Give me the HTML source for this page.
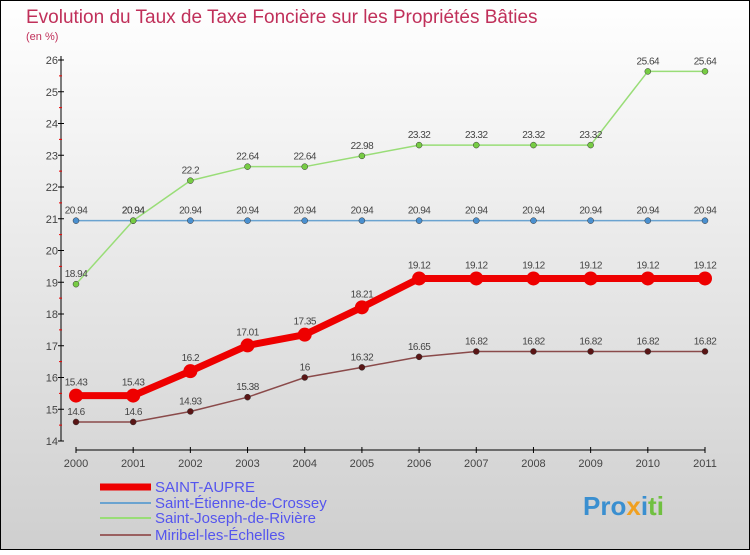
<!DOCTYPE html>
<html><head><meta charset="utf-8"><style>
body{margin:0}
#c{width:750px;height:550px;font-family:"Liberation Sans",sans-serif}
</style></head><body>
<div id="c">
<svg width="750" height="550">
<defs><linearGradient id="bg" x1="0" y1="0" x2="0" y2="1"><stop offset="0" stop-color="#ffffff"/><stop offset="1" stop-color="#cfcfcf"/></linearGradient></defs>
<rect x="0.5" y="0.5" width="749" height="549" fill="url(#bg)" stroke="#000"/>
<text x="26" y="23" font-size="19" fill="#c0305a">Evolution du Taux de Taxe Foncière sur les Propriétés Bâties</text>
<text x="26" y="40" font-size="11" fill="#c0305a">(en %)</text>
<g id="axes"></g><g id="series"></g><g id="legend"></g>
<text x="583" y="515" font-size="26" font-weight="bold" fill="#3a8fd0">Pro<tspan fill="#f0a020">x</tspan><tspan fill="#3a8fd0">i</tspan><tspan fill="#70c040">ti</tspan></text>
</svg></div>
<script>
const years=[2000,2001,2002,2003,2004,2005,2006,2007,2008,2009,2010,2011];
const yTicks=[14,15,16,17,18,19,20,21,22,23,24,25,26];
const saintAupre=[15.43,15.43,16.2,17.01,17.35,18.21,19.12,19.12,19.12,19.12,19.12,19.12];
const saintEtienne=[20.94,20.94,20.94,20.94,20.94,20.94,20.94,20.94,20.94,20.94,20.94,20.94];
const saintJoseph=[18.94,20.94,22.2,22.64,22.64,22.98,23.32,23.32,23.32,23.32,25.64,25.64];
const miribel=[14.6,14.6,14.93,15.38,16,16.32,16.65,16.82,16.82,16.82,16.82,16.82];
const NS="http://www.w3.org/2000/svg";
const x=i=>76+i*(705-76)/(years.length-1);
const y=v=>441-(v-14)*(441-60)/12;
function mk(t,a,p){const e=document.createElementNS(NS,t);for(const k in a)e.setAttribute(k,a[k]);p.appendChild(e);return e;}
const ax=document.getElementById('axes');
let e=mk('line',{x1:61,y1:56,x2:61,y2:441,stroke:'#000'},ax);


e=mk('line',{x1:76,y1:450,x2:705,y2:450,stroke:'#000'},ax);


yTicks.forEach(v=>{
 mk('line',{x1:58,x2:64,y1:y(v),y2:y(v),stroke:'#000'},ax);
 if(v<26)mk('line',{x1:59,x2:62,y1:y(v+0.5),y2:y(v+0.5),stroke:'#e00'},ax);
 const t=mk('text',{x:58,y:y(v)+4,'font-size':11,fill:'#444','text-anchor':'end'},ax);t.textContent=v;
 
 
});
years.forEach((yr,i)=>{
 mk('line',{x1:x(i),x2:x(i),y1:447,y2:453,stroke:'#000'},ax);
 const t=mk('text',{x:x(i),y:467,'font-size':11,fill:'#444','text-anchor':'middle'},ax);t.textContent=yr;
 
 
});
const sg=document.getElementById('series');
function draw(vals,color,w,r,pc,name){
 const g=mk('g',{},sg);
 
 
 mk('polyline',{points:vals.map((v,i)=>x(i)+','+y(v)).join(' '),fill:'none',stroke:color,'stroke-width':w,'stroke-linejoin':'round'},g);
 vals.forEach((v,i)=>{
  const c=mk('circle',{cx:x(i),cy:y(v),r:r,fill:pc,stroke:'#333','stroke-width':r>5?0:0.5},g);
  
  
  const t=mk('text',{x:x(i),y:y(v)-(r>5?10:7),'font-size':10,fill:'#444','text-anchor':'middle','letter-spacing':'-0.5'},g);
  t.textContent=v;
  
  
 });
}
draw(saintEtienne,'#6aa3d0',1.5,3,'#4a90d0','saint-etienne-series');
draw(saintJoseph,'#99dd77',1.5,3,'#77cc44','saint-joseph-series');
draw(miribel,'#8a4a4a',1.5,3,'#5a1515','miribel-series');
draw(saintAupre,'#ee0000',7,7,'#ee0000','saint-aupre-series');
const lg=document.getElementById('legend');
const leg=[['SAINT-AUPRE','#ee0000',7],['Saint-Étienne-de-Crossey','#6aa3d0',2],['Saint-Joseph-de-Rivière','#99dd77',2],['Miribel-les-Échelles','#9a6060',2]];
const ly=[492,508,523,540];
leg.forEach((l,i)=>{
 const g=mk('g',{},lg);
 
 
 mk('line',{x1:100,x2:151,y1:ly[i]-5,y2:ly[i]-5,stroke:l[1],'stroke-width':l[2]},g);
 const t=mk('text',{x:155,y:ly[i],'font-size':15,fill:'#5555ee'},g);t.textContent=l[0];
});
</script>
</body></html>
